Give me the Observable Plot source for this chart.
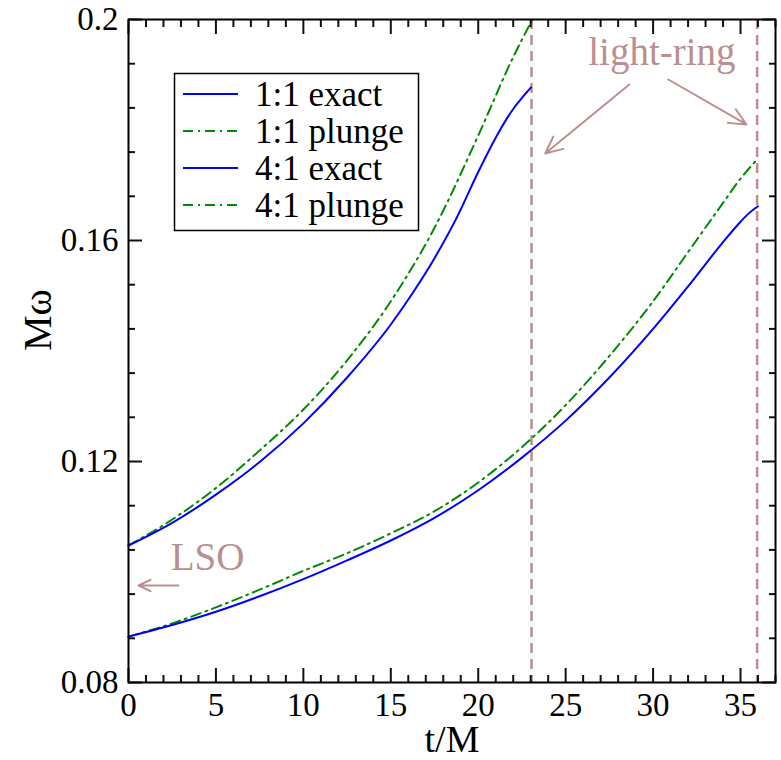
<!DOCTYPE html>
<html>
<head>
<meta charset="utf-8">
<script src="https://cdn.jsdelivr.net/npm/d3@7"></script>
<script src="https://cdn.jsdelivr.net/npm/@observablehq/plot@0.6"></script>
<style>
  html, body { margin: 0; padding: 0; background: #fff; }
  #wrap { position: relative; width: 781px; height: 760px; }
  #legend { position: absolute; left: 173px; top: 72px; }
  #wrap svg text { font-family: 'Liberation Serif', 'Times New Roman', serif; }
</style>
</head>
<body>
<div id="wrap"></div>
<script>
// ---- data ----
const t11Exact = [0, 2.5, 5, 7.5, 10, 12.5, 15, 16.25, 17.5, 18.75, 20, 21, 22, 22.5, 23.02];
const w11Exact = [0.1048, 0.1089, 0.1140, 0.1199, 0.1269, 0.1352, 0.1448, 0.1505, 0.1568, 0.1640, 0.1724, 0.1786, 0.1838, 0.1858, 0.1877];

const t11Plunge = [0, 2.5, 5, 7.5, 10, 12.5, 15, 17.5, 20, 22, 23.1];
const w11Plunge = [0.1048, 0.1095, 0.1152, 0.1220, 0.1294, 0.1383, 0.1490, 0.1623, 0.1790, 0.1932, 0.2000];

const t41Exact = [0, 2.5, 5, 7.5, 10, 12.5, 15, 17.5, 20, 22.5, 25, 27.5, 30, 32, 34, 35, 35.5, 36];
const w41Exact = [0.0883, 0.0904, 0.0928, 0.0956, 0.0987, 0.1021, 0.1057, 0.1098, 0.1148, 0.1207, 0.1274, 0.1352, 0.1440, 0.1517, 0.1597, 0.1634, 0.1650, 0.1662];

const t41Plunge = [0, 2.5, 5, 7.5, 10, 12.5, 15, 17.5, 20, 22.5, 25, 27.5, 30, 32, 34, 35, 35.9];
const w41Plunge = [0.0883, 0.0907, 0.0936, 0.0968, 0.1002, 0.1034, 0.1070, 0.1110, 0.1162, 0.1226, 0.1302, 0.1391, 0.1490, 0.1579, 0.1668, 0.1712, 0.1745];

const lightRingT = [23.05, 35.95];

const xDomain = [0, 37];
const yDomain = [0.08, 0.2];
const xMajor = [0, 5, 10, 15, 20, 25, 30, 35];
const xMinor = [1, 2, 3, 4, 6, 7, 8, 9, 11, 12, 13, 14, 16, 17, 18, 19, 21, 22, 23, 24, 26, 27, 28, 29, 31, 32, 33, 34, 36, 37];
const yMajor = [0.08, 0.12, 0.16, 0.2];
const yMinor = [0.088, 0.096, 0.104, 0.112, 0.128, 0.136, 0.144, 0.152, 0.168, 0.176, 0.184, 0.192];

const legendLabels = ["1:1 exact", "1:1 plunge", "4:1 exact", "4:1 plunge"];

// annotation anchors, in data units
const noteText = ["light-ring", "LSO"];
const noteT = [26.29, 2.41];
const noteW = [0.19394, 0.10271];
const arrowFromT = [28.64, 30.87, 2.86];
const arrowFromW = [0.18824, 0.18914, 0.09756];
const arrowToT = [23.83, 35.34, 0.57];
const arrowToW = [0.17575, 0.18100, 0.09756];

// ---- build tables ----
const toPts = (ts, ws) => ts.map((t, i) => ({t, w: ws[i]}));
const s11e = toPts(t11Exact, w11Exact);
const s11p = toPts(t11Plunge, w11Plunge);
const s41e = toPts(t41Exact, w41Exact);
const s41p = toPts(t41Plunge, w41Plunge);
const notes = noteText.map((s, i) => ({s, t: noteT[i], w: noteW[i]}));
const arrows = arrowFromT.map((_, i) => ({x1: arrowFromT[i], y1: arrowFromW[i], x2: arrowToT[i], y2: arrowToW[i]}));

const BLUE = "#0000ff", GREEN = "#008b00", ROSY = "#bc8f8f", TICK = "#111";
const DASHDOT = "10,5,2,5";
const FONT = "'Liberation Serif', 'Times New Roman', serif";

const W = 781, H = 760, ML = 128, MR = 6, MT = 19, MB = 78;
const MAJ = 14, MIN = 7;

const tickOpts = {stroke: TICK, strokeWidth: 2};

const chart = Plot.plot({
  width: W,
  height: H,
  marginLeft: ML,
  marginRight: MR,
  marginTop: MT,
  marginBottom: MB,
  style: {fontFamily: FONT, fontSize: "33px", color: "black", background: "white", overflow: "visible"},
  x: {domain: xDomain},
  y: {domain: yDomain},
  marks: [
    Plot.ruleX(lightRingT, {stroke: ROSY, strokeWidth: 2.5, strokeDasharray: "10,6"}),
    Plot.line(s11p, {x: "t", y: "w", stroke: GREEN, strokeWidth: 2, strokeDasharray: DASHDOT, curve: "monotone-x"}),
    Plot.line(s41p, {x: "t", y: "w", stroke: GREEN, strokeWidth: 2, strokeDasharray: DASHDOT, curve: "monotone-x"}),
    Plot.line(s11e, {x: "t", y: "w", stroke: BLUE, strokeWidth: 2, curve: "monotone-x"}),
    Plot.line(s41e, {x: "t", y: "w", stroke: BLUE, strokeWidth: 2, curve: "monotone-x"}),
    Plot.text(notes, {x: "t", y: "w", text: "s", fill: ROSY, fontSize: 39, fontFamily: FONT, textAnchor: "start"}),
    Plot.arrow(arrows, {x1: "x1", y1: "y1", x2: "x2", y2: "y2", stroke: ROSY, strokeWidth: 2, headLength: 14, headAngle: 50}),
    // inward ticks on all four sides (negative tick size points into the frame)
    Plot.axisX({ticks: xMajor, tickSize: -MAJ, tickPadding: 10 + MAJ, tickFormat: d => String(d), label: null, ...tickOpts, fontSize: 33, fontFamily: FONT}),
    Plot.axisX({ticks: xMinor, tickSize: -MIN, fill: "none", label: null, ...tickOpts}),
    Plot.axisX({anchor: "top", ticks: xMajor, tickSize: -MAJ, fill: "none", label: null, ...tickOpts}),
    Plot.axisX({anchor: "top", ticks: xMinor, tickSize: -MIN, fill: "none", label: null, ...tickOpts}),
    Plot.axisY({ticks: yMajor, tickSize: -MAJ, tickPadding: 10 + MAJ, tickFormat: d => String(d), label: null, ...tickOpts, fontSize: 33, fontFamily: FONT}),
    Plot.axisY({ticks: yMinor, tickSize: -MIN, fill: "none", label: null, ...tickOpts}),
    Plot.axisY({anchor: "right", ticks: yMajor, tickSize: -MAJ, fill: "none", label: null, ...tickOpts}),
    Plot.axisY({anchor: "right", ticks: yMinor, tickSize: -MIN, fill: "none", label: null, ...tickOpts}),
    Plot.frame({stroke: "black", strokeWidth: 2}),
    Plot.text(["t/M"], {frameAnchor: "bottom", dy: 57, fontSize: 38, fontFamily: FONT, lineAnchor: "middle"}),
    Plot.text(["Mω"], {frameAnchor: "left", dx: -90, rotate: -90, fontSize: 40, fontFamily: FONT})
  ]
});

const wrap = document.getElementById("wrap");
wrap.appendChild(chart);

// ---- legend box (small overlay sized to the box only) ----
const ns = "http://www.w3.org/2000/svg";
const lg = document.createElementNS(ns, "svg");
lg.setAttribute("id", "legend");
lg.setAttribute("width", 248);
lg.setAttribute("height", 161);
lg.style.pointerEvents = "none";
const box = document.createElementNS(ns, "rect");
box.setAttribute("x", 1.5); box.setAttribute("y", 1.5);
box.setAttribute("width", 244); box.setAttribute("height", 157);
box.setAttribute("fill", "white"); box.setAttribute("stroke", "black"); box.setAttribute("stroke-width", 1.5);
lg.appendChild(box);
const legendColors = [BLUE, GREEN, BLUE, GREEN];
const legendDash = [null, DASHDOT, null, DASHDOT];
legendLabels.forEach((label, i) => {
  const cy = 22 + i * 37;
  const ln = document.createElementNS(ns, "line");
  ln.setAttribute("x1", 10); ln.setAttribute("x2", 65);
  ln.setAttribute("y1", cy); ln.setAttribute("y2", cy);
  ln.setAttribute("stroke", legendColors[i]); ln.setAttribute("stroke-width", 2);
  if (legendDash[i]) ln.setAttribute("stroke-dasharray", legendDash[i]);
  lg.appendChild(ln);
  const tx = document.createElementNS(ns, "text");
  tx.setAttribute("x", 82); tx.setAttribute("y", cy + 12);
  tx.style.fontFamily = FONT;
  tx.style.fontSize = "35px";
  tx.textContent = label;
  lg.appendChild(tx);
});
wrap.appendChild(lg);
</script>
</body>
</html>
